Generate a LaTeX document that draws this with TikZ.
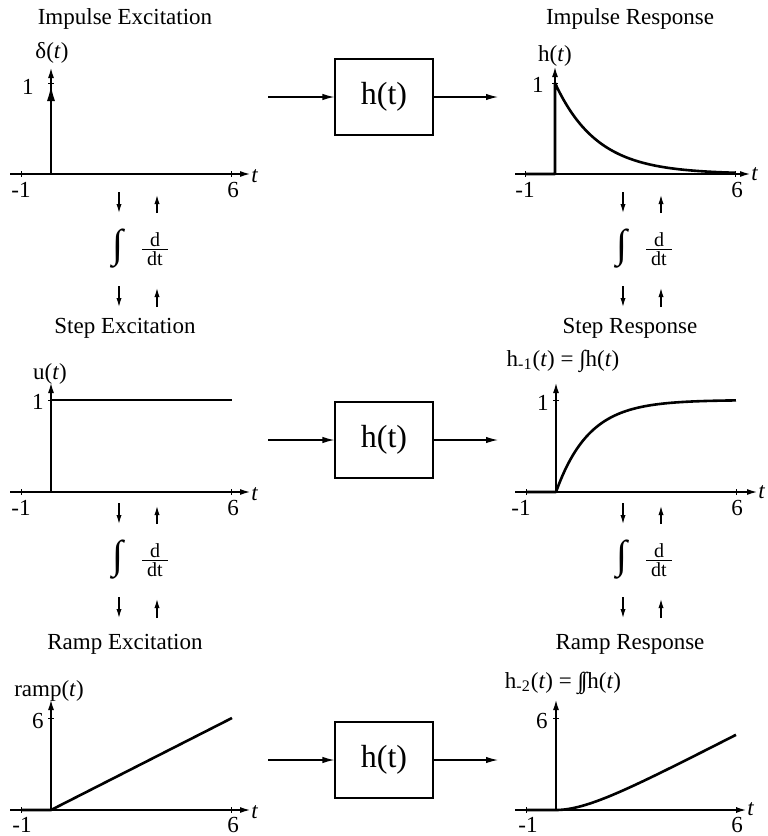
\documentclass[tikz,border=0pt]{standalone}
\usepackage{fontspec}
\setmainfont{Liberation Serif}
\usetikzlibrary{arrows.meta}
\begin{document}
\begin{tikzpicture}[x=0.5pt,y=-0.5pt,
 axis/.style={line width=0.6pt,-{Latex[length=5pt,width=3pt]}},
 sig/.style={line width=1.3pt,line join=round},
 tck/.style={line width=0.5pt},
 conn/.style={line width=0.6pt,-{Latex[length=6pt,width=3.2pt]}},
 smallarr/.style={line width=0.6pt,-{Latex[length=4.5pt,width=2.6pt]}},
 blk/.style={draw,line width=0.6pt,minimum width=49pt,minimum height=38pt,inner sep=0pt,font=\fontsize{16}{18}\selectfont},
 title/.style={font=\fontsize{11.5}{13}\selectfont,inner sep=0pt},
 lab/.style={font=\fontsize{11.5}{13}\selectfont,inner sep=0pt},
 num/.style={font=\fontsize{11.5}{13}\selectfont,inner sep=0pt},
]
\useasboundingbox (0,0) rectangle (767,836);

% ---------- titles ----------
\node[title] (t1) at (125,19) {Impulse Excitation};
\node[title] (t2) at (630,19) {Impulse Response};
\node[title] (t3) at (125,328) {Step Excitation};
\node[title] (t4) at (630,328) {Step Response};
\node[title] (t5) at (125,644) {Ramp Excitation};
\node[title] (t6) at (630,644) {Ramp Response};

% ---------- blocks ----------
\node[blk] (b1) at (384,97) {h(t)};
\node[blk] (b2) at (384,440) {h(t)};
\node[blk] (b3) at (384,760) {h(t)};
\coordinate (i1) at (268,97); \coordinate (o1) at (498,97);
\coordinate (i2) at (268,440); \coordinate (o2) at (498,440);
\coordinate (i3) at (268,760); \coordinate (o3) at (498,760);
\draw[conn] (i1) -- (b1.west); \draw[conn] (b1.east) -- (o1);
\draw[conn] (i2) -- (b2.west); \draw[conn] (b2.east) -- (o2);
\draw[conn] (i3) -- (b3.west); \draw[conn] (b3.east) -- (o3);

% ---------- Impulse excitation ----------
\draw[axis] (10,174) -- (250,174);
\draw[axis] (51,174) -- (51,68);
\draw[tck] (21,171) -- (21,177);
\draw[tck] (231,171) -- (231,177);
\draw[tck] (48,83) -- (54,83);
\draw[line width=1.3pt,-{Latex[length=8.5pt,width=4pt]}] (51,174) -- (51,84);
\node[num,anchor=east] (n1) at (34,87) {1};
\node[num] (n2) at (21,190) {-1};
\node[num] (n3) at (233,190) {6};
\node[lab,anchor=west] (tx1) at (251,176) {\textit{t}};
\node[lab] (l1) at (52,53) {δ(\textit{t})};

% ---------- Step excitation ----------
\draw[axis] (10,492) -- (250,492);
\draw[axis] (51,492) -- (51,383);
\draw[tck] (21,489) -- (21,495);
\draw[tck] (231,489) -- (231,495);
\draw[tck] (48,400) -- (54,400);
\draw[sig] (21,492) -- (51,492) -- (51,400) -- (232,400);
\node[num,anchor=east] (n4) at (44,402) {1};
\node[num] (n5) at (21,508) {-1};
\node[num] (n6) at (233,508) {6};
\node[lab,anchor=west] (tx2) at (251,494) {\textit{t}};
\node[lab] (l2) at (50,374) {u(\textit{t})};

% ---------- Ramp excitation ----------
\draw[axis] (10,810) -- (250,810);
\draw[axis] (51,810) -- (51,700);
\draw[tck] (21,807) -- (21,813);
\draw[tck] (231,807) -- (231,813);
\draw[tck] (48,718) -- (54,718);
\draw[sig] (21,810) -- (51,810) -- (232,718);
\node[num,anchor=east] (n7) at (44,721) {6};
\node[num] (n8) at (22,825) {-1};
\node[num] (n9) at (233,825) {6};
\node[lab,anchor=west] (tx3) at (251,812) {\textit{t}};
\node[lab] (l3) at (49,691) {ramp(\textit{t})};

% ---------- Impulse response ----------
\draw[axis] (515,174) -- (750,174);
\draw[axis] (555,174) -- (555,67);
\draw[tck] (525,171) -- (525,177);
\draw[tck] (735,171) -- (735,177);
\draw[tck] (552,83) -- (558,83);
\draw[sig] (525,174) -- (555,174) -- (555,83)
  -- plot[domain=0:6,samples=80] ({555+30*\x},{174-91*exp(-\x/1.4)});
\node[num,anchor=east] (n10) at (544,85) {1};
\node[num] (n11) at (525,190) {-1};
\node[num] (n12) at (737,190) {6};
\node[lab,anchor=west] (tx4) at (751,174) {\textit{t}};
\node[lab] (l4) at (555,56) {h(\textit{t})};

% ---------- Step response ----------
\draw[axis] (515,492) -- (757,492);
\draw[axis] (556,492) -- (556,383);
\draw[tck] (526,489) -- (526,495);
\draw[tck] (736,489) -- (736,495);
\draw[tck] (553,400) -- (559,400);
\draw[sig] (526,492) -- (556,492)
  -- plot[domain=0:6,samples=80] ({556+30*\x},{492-92*(1-exp(-\x/1.1))});
\node[num,anchor=east] (n13) at (549,403) {1};
\node[num] (n14) at (521,508) {-1};
\node[num] (n15) at (737,508) {6};
\node[lab,anchor=west] (tx5) at (758,492) {\textit{t}};
\node[lab] (l5) at (563,361) {h\textsubscript{-1}(\textit{t}) = ∫h(\textit{t})};

% ---------- Ramp response ----------
\draw[axis] (515,810) -- (746,810);
\draw[axis] (556,810) -- (556,700);
\draw[tck] (526,807) -- (526,813);
\draw[tck] (736,807) -- (736,813);
\draw[tck] (553,718) -- (559,718);
\draw[sig] (526,810) -- (556,810)
  -- plot[domain=0:6,samples=80] ({556+30*\x},{810-(92/6)*(\x-1.1*(1-exp(-\x/1.1)))});
\node[num,anchor=east] (n16) at (548,721) {6};
\node[num] (n17) at (528,825) {-1};
\node[num] (n18) at (737,825) {6};
\node[lab,anchor=west] (tx6) at (747,809) {\textit{t}};
\node[lab] (l6) at (563,683) {h\textsubscript{-2}(\textit{t}) = ∫\kern-0.12em∫h(\textit{t})};

% ---------- integrate / differentiate sets ----------
\foreach \dx/\dy in {0/0,504/0,0/311,504/311}{
  \draw[smallarr] ({119+\dx},{192+\dy}) -- ({119+\dx},{213+\dy});
  \draw[smallarr] ({157+\dx},{213+\dy}) -- ({157+\dx},{195+\dy});
  \draw[smallarr] ({119+\dx},{286+\dy}) -- ({119+\dx},{307+\dy});
  \draw[smallarr] ({157+\dx},{307+\dy}) -- ({157+\dx},{288+\dy});
  \node[inner sep=0pt,font=\fontsize{20}{21}\selectfont] at ({118+\dx},{249+\dy}) {∫};
  \node[inner sep=0pt,font=\fontsize{10}{11}\selectfont] at ({155+\dx},{240+\dy}) {d};
  \node[inner sep=0pt,font=\fontsize{10}{11}\selectfont] at ({155+\dx},{259+\dy}) {dt};
  \draw[line width=0.5pt] ({142+\dx},{249+\dy}) -- ({168+\dx},{249+\dy});
}
\end{tikzpicture}
\end{document}
